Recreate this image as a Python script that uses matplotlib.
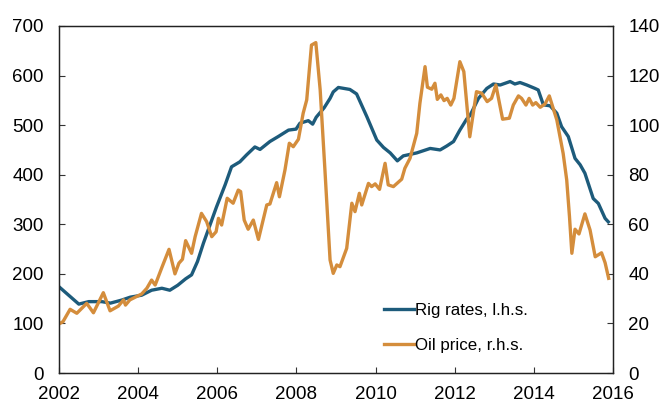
import matplotlib
matplotlib.use("Agg")
import matplotlib.pyplot as plt

plt.rcParams['font.family'] = ['Liberation Sans', 'DejaVu Sans']

# Rig rates (left axis)
rig_years = [2002.0, 2002.5, 2002.75, 2003.08, 2003.3, 2003.58, 2003.8, 2004.09, 2004.34,
             2004.6, 2004.8, 2005.0, 2005.2, 2005.35, 2005.5, 2005.65, 2005.98, 2006.2,
             2006.36, 2006.57, 2006.74, 2006.95, 2007.08, 2007.33, 2007.54, 2007.8, 2007.99,
             2008.09, 2008.3, 2008.41, 2008.5, 2008.7, 2008.85, 2008.93, 2009.06, 2009.35,
             2009.52, 2009.78, 2010.03, 2010.2, 2010.37, 2010.55, 2010.7, 2011.04, 2011.38,
             2011.63, 2011.8, 2011.97, 2012.13, 2012.3, 2012.39, 2012.6, 2012.81, 2012.98,
             2013.15, 2013.4, 2013.52, 2013.65, 2013.82, 2014.03, 2014.11, 2014.24, 2014.41,
             2014.58, 2014.7, 2014.87, 2015.04, 2015.17, 2015.29, 2015.5, 2015.63, 2015.8,
             2015.88]
rig_rates = [174, 139, 144, 144, 141, 147, 153, 157, 167,
             171, 167, 177, 190, 198, 225, 262, 335, 380,
             416, 426, 440, 456, 451, 467, 477, 490, 492,
             504, 509, 502, 516, 535, 554, 567, 576, 572,
             563, 517, 470, 455, 444, 428, 438, 444, 453,
             450, 458, 467, 490, 512, 520, 554, 574, 583,
             581, 588, 583, 586, 581, 574, 571, 541, 539,
             524, 497, 477, 433, 420, 403, 352, 342, 312,
             305]

# Oil price (right axis)
oil_years = [2002.0, 2002.1, 2002.28, 2002.45, 2002.7, 2002.87, 2003.12, 2003.29, 2003.5,
             2003.63, 2003.68, 2003.79, 2004.09, 2004.22, 2004.34, 2004.43, 2004.6, 2004.78,
             2004.93, 2005.03, 2005.12, 2005.2, 2005.35, 2005.44, 2005.6, 2005.73, 2005.86,
             2005.97, 2006.03, 2006.11, 2006.25, 2006.4, 2006.53, 2006.59, 2006.68, 2006.78,
             2006.91, 2007.04, 2007.25, 2007.33, 2007.5, 2007.57, 2007.71, 2007.82, 2007.92,
             2008.05, 2008.17, 2008.26, 2008.38, 2008.49, 2008.6, 2008.72, 2008.85, 2008.93,
             2009.02, 2009.1, 2009.27, 2009.4, 2009.48, 2009.59, 2009.65, 2009.82, 2009.9,
             2009.99, 2010.1, 2010.24, 2010.32, 2010.45, 2010.66, 2010.74, 2010.87, 2011.04,
             2011.12, 2011.25, 2011.31, 2011.42, 2011.5, 2011.56, 2011.65, 2011.73, 2011.81,
             2011.9, 2011.98, 2012.13, 2012.23, 2012.38, 2012.55, 2012.68, 2012.82, 2012.93,
             2013.04, 2013.21, 2013.38, 2013.48, 2013.61, 2013.69, 2013.8, 2013.88, 2013.97,
             2014.05, 2014.16, 2014.28, 2014.39, 2014.58, 2014.74, 2014.83, 2014.9, 2014.96,
             2015.04, 2015.14, 2015.29, 2015.42, 2015.55, 2015.71, 2015.8, 2015.89]
oil_price = [19.8, 20.7, 25.7, 24.1, 28.1, 24.3, 32.4, 25.1, 27.0,
             29.5, 27.4, 29.5, 31.9, 34.2, 37.5, 35.5, 42.6, 49.9,
             40.0, 44.3, 45.9, 53.4, 48.3, 55.0, 64.4, 61.1, 55.0,
             57.0, 62.4, 59.7, 70.5, 68.5, 73.8, 73.2, 61.7, 58.0,
             61.7, 53.9, 67.8, 68.2, 76.8, 71.1, 81.9, 92.7, 91.3,
             94.3, 104.8, 110.2, 132.3, 133.3, 114.2, 81.9, 45.6, 40.2,
             43.6, 42.9, 50.3, 68.5, 65.1, 72.5, 67.8, 76.5, 75.2,
             76.3, 74.1, 84.6, 75.9, 75.2, 78.2, 82.6, 86.6, 96.7,
             108.8, 123.6, 115.3, 114.5, 116.9, 110.4, 112.2, 109.9, 110.8,
             108.1, 110.8, 125.6, 121.6, 95.3, 113.5, 112.9, 109.5, 110.8,
             116.2, 102.4, 102.8, 108.1, 111.8, 110.8, 108.1, 110.8, 108.1,
             109.1, 107.2, 108.5, 111.8, 102.1, 88.6, 77.9, 63.1, 48.3,
             58.0, 56.1, 64.2, 57.7, 46.9, 48.5, 44.5, 38.2]

blue = '#1d5b7b'
orange = '#d48d3c'

fig = plt.figure(figsize=(6.63, 4.03), dpi=100)
ax = fig.add_axes([0.089, 0.0744, 0.8356, 0.8611])
ax2 = ax.twinx()

l1, = ax.plot(rig_years, rig_rates, color=blue, lw=2.4, label='Rig rates, l.h.s.')
l2, = ax2.plot(oil_years, oil_price, color=orange, lw=2.4, label='Oil price, r.h.s.')

ax.set_xlim(2002, 2016)
ax.set_xticks(range(2002, 2017, 2))
ax.set_ylim(0, 700)
ax.set_yticks(range(0, 701, 100))
ax2.set_ylim(0, 140)
ax2.set_yticks(range(0, 141, 20))

for a in (ax, ax2):
    a.tick_params(direction='in', length=4, width=0.8, labelsize=13.5, color='#333333')
    for s in a.spines.values():
        s.set_linewidth(0.9)
        s.set_color('#222222')
ax.tick_params(axis='y', pad=11)
ax.tick_params(axis='x', pad=9)
ax2.tick_params(axis='y', pad=11)

ax.legend([l1, l2], [l1.get_label(), l2.get_label()], loc='lower left',
          bbox_to_anchor=(0.56, 0.015), frameon=False, fontsize=12.2,
          handlelength=1.75, handletextpad=0.05, labelspacing=1.15)

fig.savefig('out.png', dpi=100)
